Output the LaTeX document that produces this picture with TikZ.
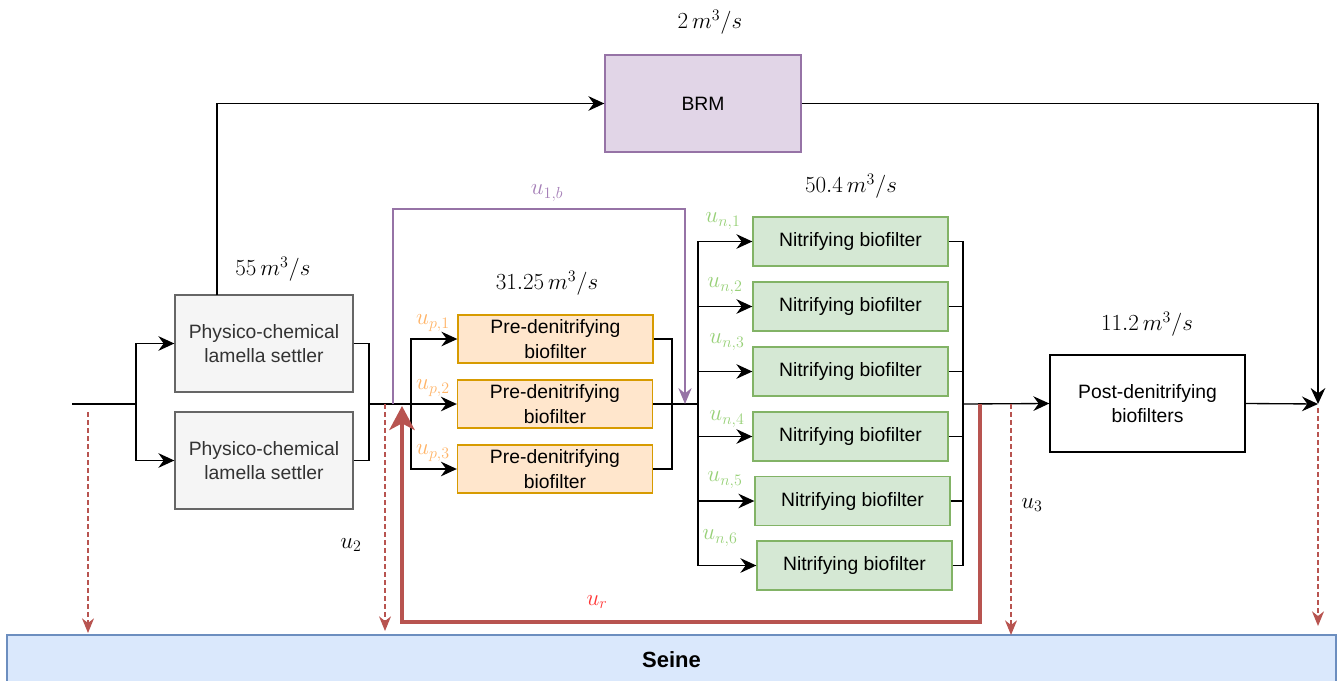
\documentclass[tikz,border=0pt]{standalone}
\usepackage[no-math]{fontspec}
\newfontfamily\lsans{Liberation Sans}
\usetikzlibrary{arrows.meta}
\definecolor{grayfill}{HTML}{F5F5F5}
\definecolor{graydraw}{HTML}{666666}
\definecolor{graytext}{HTML}{333333}
\definecolor{purpfill}{HTML}{E1D5E7}
\definecolor{purpdraw}{HTML}{9673A6}
\definecolor{purplab}{HTML}{A680B8}
\definecolor{orfill}{HTML}{FFE6CC}
\definecolor{ordraw}{HTML}{D79B00}
\definecolor{orlab}{HTML}{FFB366}
\definecolor{grfill}{HTML}{D5E8D4}
\definecolor{grdraw}{HTML}{82B366}
\definecolor{grlab}{HTML}{97D077}
\definecolor{bluefill}{HTML}{DAE8FC}
\definecolor{bluedraw}{HTML}{6C8EBF}
\definecolor{redline}{HTML}{B85450}
\definecolor{redlab}{HTML}{FF3333}
\begin{document}
\begin{tikzpicture}[x=0.75pt,y=-0.75pt,
  box/.style={draw, line width=1pt, inner sep=0pt, align=center, font=\lsans\fontsize{14.5}{18.5}\selectfont},
  settler/.style={box, fill=grayfill, draw=graydraw, text=graytext, minimum width=133.5pt, minimum height=72.75pt},
  brmbox/.style={box, fill=purpfill, draw=purpdraw, text=black, minimum width=147pt, minimum height=72.75pt},
  prebox/.style={box, fill=orfill, draw=ordraw, minimum width=146.25pt, minimum height=36pt},
  nitbox/.style={box, fill=grfill, draw=grdraw, minimum width=146.25pt, minimum height=36.75pt},
  postbox/.style={box, fill=white, draw=black, minimum width=146.25pt, minimum height=72.75pt},
  seinebox/.style={box, fill=bluefill, draw=bluedraw, minimum width=996.75pt, minimum height=37.5pt, font=\lsans\bfseries\fontsize{16.5}{20}\selectfont},
  conn/.style={line width=1pt, draw=black},
  arr/.style={conn, -{Stealth[length=12pt,width=11pt,inset=4pt]}},
  purparr/.style={line width=1pt, draw=purpdraw, -{Stealth[length=12pt,width=10pt,inset=4pt,fill=purpdraw]}},
  redarr/.style={line width=3pt, draw=redline, -{Stealth[length=18pt,width=19pt,inset=5pt]}},
  dasharr/.style={line width=0.9pt, draw=redline, dash pattern=on 3.5pt off 2.5pt, -{Stealth[length=11pt,width=9pt,inset=3.5pt,fill=redline]}},
  mlab/.style={inner sep=0pt, font=\fontsize{17.28}{20}\selectfont},
  ulab/.style={inner sep=0pt, font=\fontsize{17.28}{20}\selectfont},
]
\useasboundingbox (0,0) rectangle (1341,681);

% Seine
\node[seinebox] (seine) at (671.5,660) {Seine};

% boxes
\node[settler] (S1) at (264,343.5) {Physico-chemical\\lamella settler};
\node[settler] (S2) at (264,460.5) {Physico-chemical\\lamella settler};
\node[brmbox] (BRM) at (703,103.5) {BRM};
\node[prebox] (P1) at (555.5,339) {Pre-denitrifying\\biofilter};
\node[prebox] (P2) at (555,404) {Pre-denitrifying\\biofilter};
\node[prebox] (P3) at (555,469) {Pre-denitrifying\\biofilter};
\node[nitbox] (N1) at (850.5,241.5) {Nitrifying biofilter};
\node[nitbox] (N2) at (850.5,306.5) {Nitrifying biofilter};
\node[nitbox] (N3) at (850.5,371.5) {Nitrifying biofilter};
\node[nitbox] (N4) at (850.5,436.5) {Nitrifying biofilter};
\node[nitbox] (N5) at (852.5,501) {Nitrifying biofilter};
\node[nitbox] (N6) at (854.5,565.5) {Nitrifying biofilter};
\node[postbox] (Post) at (1147.5,403.5) {Post-denitrifying\\biofilters};

% coordinates
\coordinate (in) at (72,404);
\coordinate (b1) at (136,404);
\coordinate (m1) at (369,404);
\coordinate (b2) at (411,404);
\coordinate (m2) at (672,404);
\coordinate (b3) at (698,404);
\coordinate (m3) at (963,404);
\coordinate (j) at (1318,404);
\coordinate (t1) at (217,295);
\coordinate (pu) at (393,404);
\coordinate (pd) at (685,404);
\coordinate (rs) at (980,404);
\coordinate (rt) at (402,406);
\coordinate (d1) at (88,412);
\coordinate (d1e) at (88,633);
\coordinate (d2) at (385,404);
\coordinate (d2e) at (385,631);
\coordinate (d3) at (1011,404);
\coordinate (d3e) at (1011,635);
\coordinate (d4) at (1318,408);
\coordinate (d4e) at (1318,626);

% main flow
\draw[conn] (in) -- (b1);
\draw[arr] (b1) |- (S1.west);
\draw[arr] (b1) |- (S2.west);
\draw[conn] (S1.east) -| (m1);
\draw[conn] (S2.east) -| (m1);
\draw[conn] (m1) -- (b2);
\draw[arr] (b2) |- (P1.west);
\draw[arr] (b2) -- (P2.west);
\draw[arr] (b2) |- (P3.west);
\draw[conn] (P1.east) -| (m2);
\draw[conn] (P2.east) -- (m2);
\draw[conn] (P3.east) -| (m2);
\draw[conn] (m2) -- (b3);
\draw[arr] (b3) |- (N1.west);
\draw[arr] (b3) |- (N2.west);
\draw[arr] (b3) |- (N3.west);
\draw[arr] (b3) |- (N4.west);
\draw[arr] (b3) |- (N5.west);
\draw[arr] (b3) |- (N6.west);
\foreach \n in {N1,N2,N3,N4,N5,N6} \draw[conn] (\n.east) -| (m3);
\draw[arr] (m3) -- (Post.west);
\draw[arr] (Post.east) -- (j);
\draw[arr] (t1) |- (BRM.west);
\draw[arr] (BRM.east) -| (j);

% purple bypass
\draw[purparr] (pu) -- ++(0,-195) -| (pd);

% recirculation
\draw[redarr] (rs) -- ++(0,218) -| (rt);

% discharges
\draw[dasharr] (d1) -- (d1e);
\draw[dasharr] (d2) -- (d2e);
\draw[dasharr] (d3) -- (d3e);
\draw[dasharr] (d4) -- (d4e);

% flow labels
\node[mlab] (f1) at (710,22) {$2\,m^3/s$};
\node[mlab] (f2) at (273,269) {$55\,m^3/s$};
\node[mlab] (f3) at (547,283) {$31.25\,m^3/s$};
\node[mlab] (f4) at (851,186) {$50.4\,m^3/s$};
\node[mlab] (f5) at (1147,324) {$11.2\,m^3/s$};

% control labels
\node[ulab, text=purplab] (u1b) at (547,193) {$u_{1,b}$};
\node[ulab, text=orlab] (up1) at (433,323) {$u_{p,1}$};
\node[ulab, text=orlab] (up2) at (433,388) {$u_{p,2}$};
\node[ulab, text=orlab] (up3) at (433,453) {$u_{p,3}$};
\node[ulab, text=grlab] (un1) at (723,221) {$u_{n,1}$};
\node[ulab, text=grlab] (un2) at (725,286) {$u_{n,2}$};
\node[ulab, text=grlab] (un3) at (727,342) {$u_{n,3}$};
\node[ulab, text=grlab] (un4) at (727,419) {$u_{n,4}$};
\node[ulab, text=grlab] (un5) at (725,480) {$u_{n,5}$};
\node[ulab, text=grlab] (un6) at (720,538) {$u_{n,6}$};
\node[ulab] (u2) at (351,545) {$u_2$};
\node[ulab] (u3) at (1032,505) {$u_3$};
\node[ulab, text=redlab] (ur) at (597,602) {$u_r$};
\end{tikzpicture}
\end{document}
